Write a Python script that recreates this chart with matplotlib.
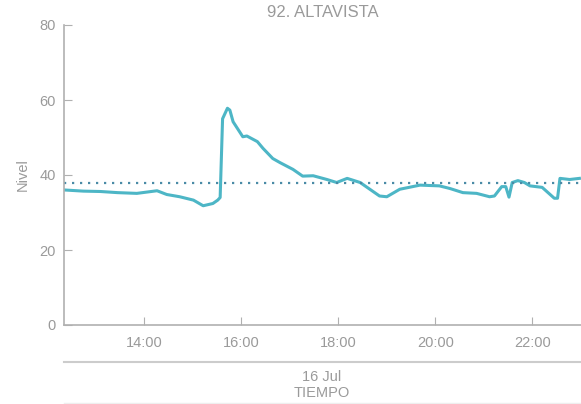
import matplotlib
matplotlib.use("Agg")
import matplotlib.pyplot as plt
import matplotlib.dates as mdates
from matplotlib.lines import Line2D
import pandas as pd

# level readings for 16 Jul
times = ["12:22", "12:45", "13:06", "13:27", "13:51", "14:16", "14:28", "14:44",
         "15:01", "15:13", "15:25", "15:31", "15:34", "15:37", "15:43", "15:46",
         "15:50", "16:02", "16:07", "16:20", "16:27", "16:39", "16:48", "17:04",
         "17:16", "17:29", "17:46", "17:58", "18:11", "18:27", "18:51", "19:00",
         "19:16", "19:41", "20:05", "20:18", "20:34", "20:51", "21:07", "21:13",
         "21:22", "21:27", "21:31", "21:35", "21:42", "21:50", "21:57", "22:12",
         "22:27", "22:31", "22:34", "22:46", "22:58"]
nivel = [36.0, 35.7, 35.6, 35.3, 35.1, 35.8, 34.8, 34.2,
         33.3, 31.8, 32.4, 33.3, 34.0, 55.0, 57.8, 57.3,
         54.2, 50.2, 50.4, 48.9, 47.1, 44.4, 43.3, 41.5,
         39.7, 39.8, 38.8, 38.0, 39.1, 38.0, 34.4, 34.2,
         36.2, 37.3, 37.1, 36.4, 35.3, 35.1, 34.2, 34.4,
         36.9, 36.9, 34.1, 38.0, 38.5, 38.0, 37.1, 36.7,
         33.8, 33.8, 39.1, 38.8, 39.1]
umbral = 38.0
fecha = "2024-07-16"

t = pd.to_datetime([f"{fecha} {h}" for h in times])

gray = "#9a9a9a"
plt.rcParams["font.family"] = ["Liberation Sans", "DejaVu Sans"]

fig = plt.figure(figsize=(5.81, 4.04), dpi=100)
ax = fig.add_axes([64 / 581, 79 / 404, 1 - 64 / 581, 300 / 404])

ax.plot(t, nivel, color="#4db6c6", lw=2.2, solid_joinstyle="round")
ax.axhline(umbral, color="#4a8ba6", lw=1.6, ls=(0, (1, 2.6)))

ax.set_ylim(0, 80)
ax.set_yticks([0, 20, 40, 60, 80])
ax.set_xlim(pd.Timestamp(f"{fecha} 12:21"), pd.Timestamp(f"{fecha} 23:00"))
ax.xaxis.set_major_locator(mdates.HourLocator(byhour=range(14, 24, 2)))
ax.xaxis.set_major_formatter(mdates.DateFormatter("%H:%M"))

for s in ["top", "right"]:
    ax.spines[s].set_visible(False)
for s in ["left", "bottom"]:
    ax.spines[s].set_color("#b0b0b0")
    ax.spines[s].set_linewidth(1.2)
ax.tick_params(direction="in", length=6, color="#b0b0b0", labelcolor=gray,
               labelsize=10.5, pad=6)
ax.tick_params(axis="x", pad=8)

ax.set_ylabel("Nivel", color=gray, fontsize=10.5, labelpad=7)
ax.set_title("92. ALTAVISTA", color=gray, fontsize=12, pad=6)

# lower band with date and axis name
fig.add_artist(Line2D([64 / 581, 1], [1 - 362 / 404] * 2, color="#cccccc", lw=1.5))
fig.add_artist(Line2D([64 / 581, 1], [1 - 403 / 404] * 2, color="#eeeeee", lw=1))
fig.text(322 / 581, 1 - 377 / 404, "16 Jul", color=gray, fontsize=10.5,
         ha="center", va="center")
fig.text(322 / 581, 1 - 393 / 404, "TIEMPO", color=gray, fontsize=10.5,
         ha="center", va="center")

fig.savefig("out.png", dpi=100)
